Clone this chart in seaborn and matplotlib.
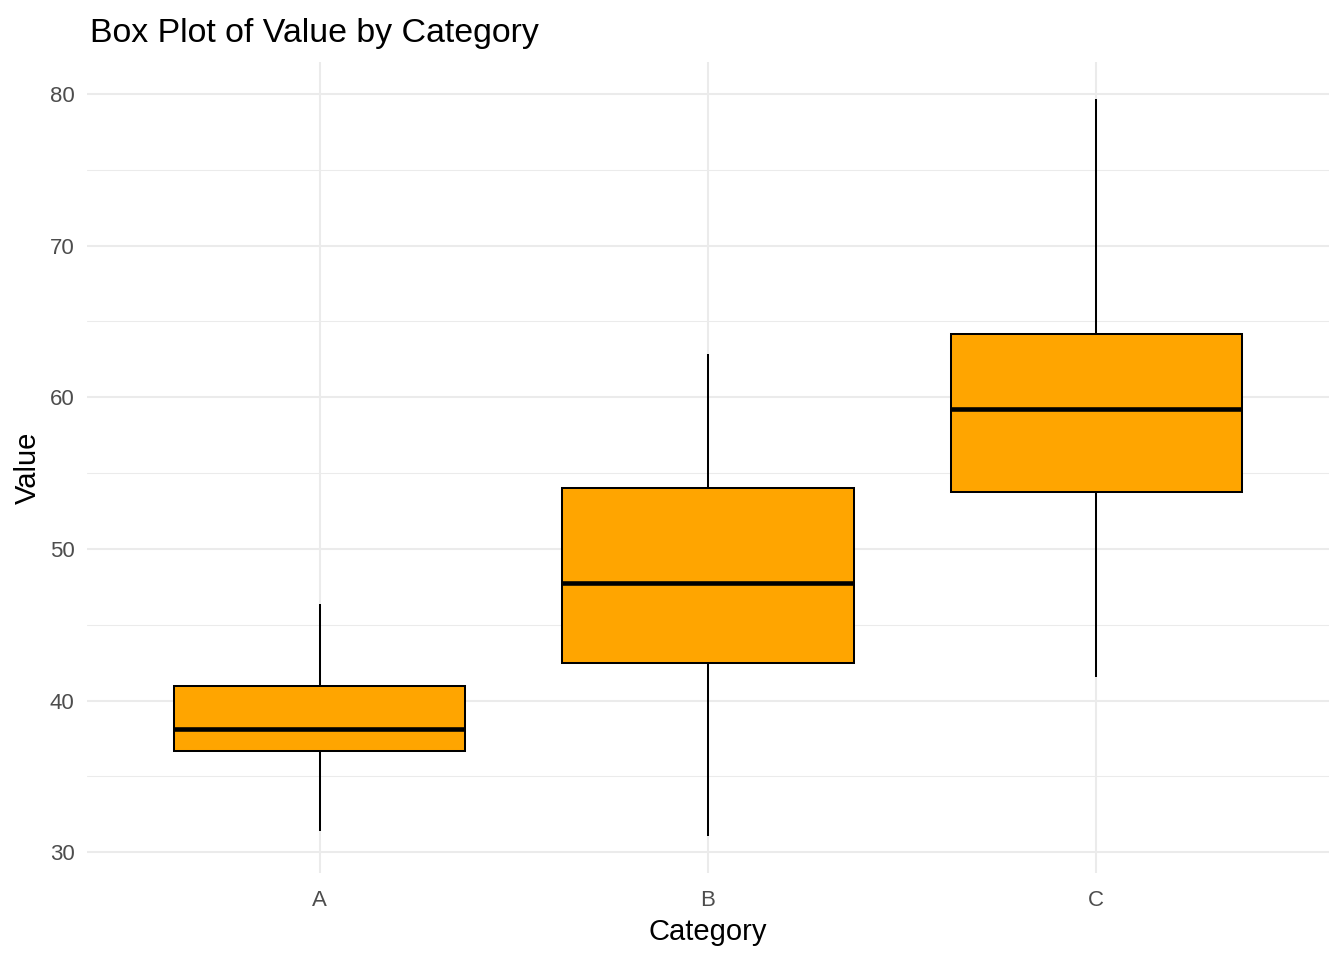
import matplotlib
matplotlib.use("Agg")
import matplotlib.pyplot as plt
import seaborn as sns
import pandas as pd
from matplotlib.ticker import MultipleLocator

# Data (five-number summaries; 5 points each reproduce the boxes)
categories = ["A", "B", "C"]
values_A = [31.4, 36.7, 38.1, 40.95, 46.35]
values_B = [31.05, 42.45, 47.75, 54.0, 62.85]
values_C = [41.55, 53.75, 59.2, 64.15, 79.65]

df = pd.DataFrame({
    "Category": ["A"] * len(values_A) + ["B"] * len(values_B) + ["C"] * len(values_C),
    "Value": values_A + values_B + values_C,
})

sns.set_theme(style="white")
plt.rcParams["font.family"] = ["Liberation Sans", "DejaVu Sans"]

fig = plt.figure(figsize=(13.44, 9.6), dpi=100)
ax = fig.add_axes([87 / 1344, 87 / 960, 1242 / 1344, 811 / 960])

grid_col = "#EBEBEB"
ax.set_axisbelow(True)

sns.boxplot(
    data=df, x="Category", y="Value", order=categories, ax=ax,
    color="#FFA500", saturation=1, linecolor="black", linewidth=1.45,
    width=0.75, whis=1.5, showcaps=False, showfliers=False,
    medianprops={"linewidth": 3.3, "color": "black"},
)

ax.set_xlim(-0.6, 2.6)
ax.set_ylim(28.63, 82.1)
ax.yaxis.set_major_locator(MultipleLocator(10))
ax.yaxis.set_minor_locator(MultipleLocator(5))
ax.grid(which="major", axis="both", color=grid_col, linewidth=1.45)
ax.grid(which="minor", axis="y", color=grid_col, linewidth=0.75)

for s in ax.spines.values():
    s.set_visible(False)

ax.tick_params(axis="both", which="both", length=0, labelsize=16, labelcolor="#4D4D4D")
ax.tick_params(axis="y", pad=9)
ax.tick_params(axis="x", pad=12)

ax.set_xlabel("Category", fontsize=21, color="black", labelpad=5)
ax.set_ylabel("Value", fontsize=21, color="black", labelpad=6)
fig.text(90 / 1344, 1 - 42 / 960, "Box Plot of Value by Category",
         fontsize=24.4, color="black", ha="left", va="baseline")

fig.savefig("out.png", dpi=100, facecolor="white")
